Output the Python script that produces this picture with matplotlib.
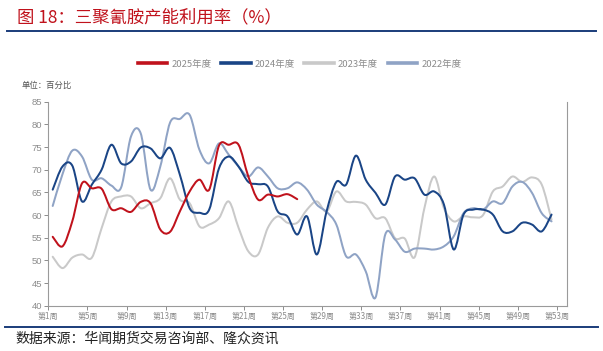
import numpy as np
import matplotlib
matplotlib.use("Agg")
import matplotlib.pyplot as plt
from matplotlib.path import Path
from matplotlib.patches import PathPatch
from matplotlib.lines import Line2D

plt.rcParams['font.family'] = ['Noto Sans CJK SC', 'DejaVu Sans']

# data: weekly capacity utilisation (%)
weeks = np.arange(1, 53)
y2025 = [55.2, 53.1, 58.6, 67.0, 65.9, 65.8, 61.3, 61.5, 60.7, 62.9, 62.6, 56.8, 56.3,
         60.8, 65.2, 67.8, 65.6, 75.3, 75.5, 75.5, 68.5, 63.4, 64.5, 64.1, 64.6, 63.5]
y2024 = [65.6, 70.7, 70.9, 63.0, 66.7, 70.0, 75.5, 71.4, 71.8, 74.9, 74.7, 72.5, 74.8,
         68.9, 61.5, 60.5, 61.2, 70.3, 72.9, 70.7, 67.3, 66.8, 66.3, 60.8, 59.7, 55.7,
         59.7, 51.3, 60.8, 67.3, 66.7, 73.1, 67.8, 64.9, 62.3, 68.5, 67.8, 68.1, 64.5,
         65.2, 62.3, 52.4, 60.1, 61.2, 61.2, 60.1, 56.4, 56.4, 58.3, 57.9, 56.4, 60.1]
y2023 = [50.8, 48.3, 50.6, 51.3, 50.6, 57.1, 63.0, 64.1, 64.1, 61.5, 62.6, 63.7, 68.1,
         63.4, 62.6, 57.5, 57.9, 59.3, 63.0, 57.2, 52.0, 51.3, 57.2, 59.7, 58.3, 58.3,
         61.2, 63.0, 60.8, 65.2, 63.0, 62.9, 62.3, 59.3, 59.3, 54.9, 54.8, 50.7, 61.5,
         68.5, 61.5, 58.6, 59.7, 59.5, 60.0, 65.2, 66.3, 68.5, 67.3, 68.3, 66.7, 59.0]
y2022 = [62.0, 69.0, 74.2, 72.9, 67.8, 68.1, 66.5, 66.1, 77.3, 78.0, 65.6, 70.7, 80.4,
         81.2, 82.1, 74.4, 71.4, 75.8, 73.3, 70.7, 68.5, 70.5, 68.5, 65.9, 65.9, 67.2,
         65.6, 62.3, 60.7, 57.9, 50.9, 51.3, 47.6, 41.8, 55.7, 54.6, 51.9, 52.6, 52.6,
         52.4, 53.1, 55.3, 60.4, 61.5, 61.2, 63.0, 62.6, 66.3, 67.3, 64.9, 60.4, 58.6]

series = [("2025年度", y2025, "#c0121c", 5),
          ("2024年度", y2024, "#1a4586", 4),
          ("2023年度", y2023, "#c9c9c9", 2),
          ("2022年度", y2022, "#8fa3c5", 3)]

tick_weeks = np.arange(1, 54, 4)


def smooth_path(x, y):
    # Excel-like smoothed line: cubic bezier through each point
    p = np.column_stack([x, y]).astype(float)
    ext = np.vstack([p[0], p, p[-1]])
    verts = [p[0]]
    codes = [Path.MOVETO]
    for i in range(len(p) - 1):
        p0, p1, p2, p3 = ext[i], ext[i + 1], ext[i + 2], ext[i + 3]
        c1 = p1 + (p2 - p0) / 6.0
        c2 = p2 - (p3 - p1) / 6.0
        verts += [c1, c2, p2]
        codes += [Path.CURVE4] * 3
    return Path(verts, codes)


fig = plt.figure(figsize=(6.03, 3.51), dpi=100)
ax = fig.add_axes([0.0801, 0.129, 0.8597, 0.5813])

off = 0.45  # points sit a bit right of the week ticks
for name, vals, col, z in series:
    xs = weeks[:len(vals)]
    patch = PathPatch(smooth_path(xs, vals), facecolor="none", edgecolor=col,
                      lw=1.45, zorder=z, capstyle="round", joinstyle="round")
    ax.add_patch(patch)

ax.set_xlim(1 - off, 54 - off)
ax.set_ylim(40, 85)
ax.set_yticks(np.arange(40, 86, 5))
ax.set_xticks(tick_weeks - off)
ax.set_xticklabels([f"第{w}周" for w in tick_weeks], fontsize=5.8, color="#8c8c8c")
ax.tick_params(axis="y", labelsize=6.8, labelcolor="#8c8c8c", length=3, width=0.7, color="#8c8c8c", pad=1.5)
ax.tick_params(axis="x", length=3, width=0.7, color="#8c8c8c", pad=1.5)
for lab in ax.get_yticklabels():
    lab.set_family(['Liberation Sans', 'DejaVu Sans'])
ax.spines["top"].set_visible(False)
for s in ["left", "bottom", "right"]:
    ax.spines[s].set_color("#9a9a9a")
    ax.spines[s].set_linewidth(0.8)

# legend
handles = [Line2D([], [], color=c, lw=2.6) for _, _, c, _ in series]
leg = fig.legend(handles, [s[0] for s in series], loc="center", ncol=4,
                 bbox_to_anchor=(0.497, 1 - 64 / 351), frameon=False, fontsize=6.8,
                 handlelength=3.1, columnspacing=1.0, handletextpad=0.45)
for t in leg.get_texts():
    t.set_color("#8c8c8c")

fig.text(22 / 603, 1 - 85 / 351, "单位：百分比", fontsize=6, color="#555555", va="center")

# title and frame lines
fig.text(17 / 603, 1 - 17.5 / 351, "图 18：三聚氰胺产能利用率（%）", fontsize=12.5,
         color="#c0121c", va="center")
fig.add_artist(Line2D([7 / 603, 596 / 603], [1 - 30.5 / 351] * 2, color="#1a3c7a", lw=1.4))
fig.add_artist(Line2D([5 / 603, 598 / 603], [1 - 327 / 351] * 2, color="#1a3c7a", lw=1.4))
fig.text(15 / 603, 1 - 339 / 351, "数据来源：华闻期货交易咨询部、隆众资讯", fontsize=10,
         color="#222222", va="center")

fig.savefig("out.png", dpi=100)
